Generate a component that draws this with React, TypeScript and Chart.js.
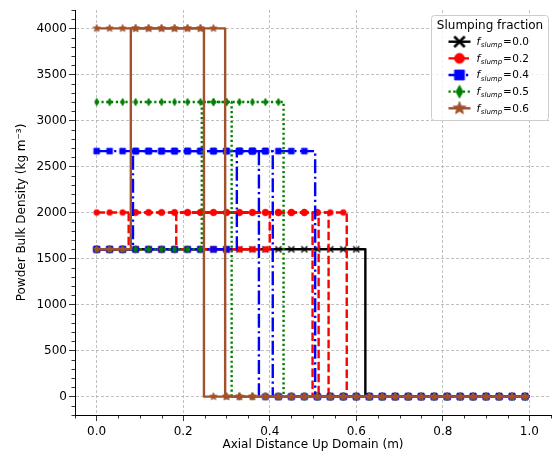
import React, { useEffect, useRef } from 'react';
import { Chart, registerables } from 'chart.js';

Chart.register(...registerables);

// ---------------- data ----------------
const slumpLabels = ['0.0', '0.2', '0.4', '0.5', '0.6'];
const seriesColors = ['#000000', '#ff0000', '#0000ff', '#008000', '#a0522d'];
const markerKinds = ['x', 'o', 's', 'd', '*'];
const unslumpedDensity = 1600;
const slumpedDensity = [1600, 2000, 2667, 3200, 4000];
// start of the slumped layer (m) and top of the powder bed (m) for each profile
const meltFronts00 = [0.0];
const bedTops00 = [0.621];
const meltFronts02 = [0.0, 0.074, 0.184, 0.4];
const bedTops02 = [0.499, 0.513, 0.536, 0.578];
const meltFronts04 = [0.0, 0.084, 0.324];
const bedTops04 = [0.375, 0.407, 0.505];
const meltFronts05 = [0.0, 0.243];
const bedTops05 = [0.312, 0.432];
const meltFronts06 = [0.0, 0.079];
const bedTops06 = [0.248, 0.297];
const domainEnd = 1.0;
const markerXs = [
  0.0, 0.03, 0.06, 0.09, 0.12, 0.15, 0.18, 0.21, 0.24, 0.27, 0.3, 0.33,
  0.36, 0.39, 0.42, 0.45, 0.48, 0.51, 0.54, 0.57, 0.6, 0.63, 0.66, 0.69,
  0.72, 0.75, 0.78, 0.81, 0.84, 0.87, 0.9, 0.93, 0.96, 0.99,
];
const xMajorTicks = [0.0, 0.2, 0.4, 0.6, 0.8, 1.0];
const yMajorTicks = [0, 500, 1000, 1500, 2000, 2500, 3000, 3500, 4000];
const xMinorStep = 0.05;
const yMinorStep = 100;
const xRange = [-0.05, 1.05];
const yRange = [-200, 4200];

const meltFronts = [meltFronts00, meltFronts02, meltFronts04, meltFronts05, meltFronts06];
const bedTops = [bedTops00, bedTops02, bedTops04, bedTops05, bedTops06];

// ---------------- styles ----------------
const LW = 2.4;
const dashes: number[][] = [[], [8.5, 3.5], [14, 3.5, 2.2, 3.5], [2.2, 2.6], []];
const FONT = '"DejaVu Sans", sans-serif';

function makeMarker(kind: string, color: string, s: number): HTMLCanvasElement {
  const size = Math.ceil(10 * s) * 2;
  const c = document.createElement('canvas');
  c.width = size;
  c.height = size;
  const g = c.getContext('2d')!;
  const cx = size / 2;
  const cy = size / 2;
  g.fillStyle = color;
  g.strokeStyle = color;
  g.lineWidth = 1;
  g.lineJoin = 'miter';
  g.beginPath();
  if (kind === 'x') {
    const r = 3 * s;
    g.lineWidth = 1.5 * s;
    g.moveTo(cx - r, cy - r);
    g.lineTo(cx + r, cy + r);
    g.moveTo(cx + r, cy - r);
    g.lineTo(cx - r, cy + r);
    g.stroke();
  } else if (kind === 'o') {
    g.arc(cx, cy, 2.8 * s, 0, Math.PI * 2);
    g.fill();
    g.stroke();
  } else if (kind === 's') {
    const h = 2.8 * s;
    g.rect(cx - h, cy - h, 2 * h, 2 * h);
    g.fill();
    g.stroke();
  } else if (kind === 'd') {
    const w = 2.0 * s;
    const h = 3.6 * s;
    g.moveTo(cx, cy - h);
    g.lineTo(cx + w, cy);
    g.lineTo(cx, cy + h);
    g.lineTo(cx - w, cy);
    g.closePath();
    g.fill();
    g.stroke();
  } else if (kind === '*') {
    const ro = 3.8 * s;
    const ri = 1.6 * s;
    for (let i = 0; i < 10; i++) {
      const r = i % 2 === 0 ? ro : ri;
      const a = -Math.PI / 2 + (i * Math.PI) / 5;
      const px = cx + r * Math.cos(a);
      const py = cy + r * Math.sin(a);
      if (i === 0) g.moveTo(px, py);
      else g.lineTo(px, py);
    }
    g.closePath();
    g.fill();
    g.stroke();
  }
  return c;
}

type Pt = { x: number; y: number; m: boolean };

function buildProfile(front: number, top: number, dens: number): Pt[] {
  const segs: [number, number, number][] = [];
  if (front > 0) segs.push([0, front, unslumpedDensity]);
  segs.push([front, top, dens]);
  segs.push([top, domainEnd, 0]);
  const pts: Pt[] = [];
  for (const [a, b, y] of segs) {
    pts.push({ x: a, y, m: false });
    for (const mx of markerXs) if (mx >= a && mx < b) pts.push({ x: mx, y, m: true });
    pts.push({ x: b, y, m: false });
  }
  return pts;
}

function minorValues(range: number[], step: number, majors: number[]): number[] {
  const out: number[] = [];
  const n0 = Math.ceil(range[0] / step - 1e-9);
  const n1 = Math.floor(range[1] / step + 1e-9);
  for (let n = n0; n <= n1; n++) {
    const v = n * step;
    if (!majors.some((m) => Math.abs(m - v) < step * 1e-3)) out.push(v);
  }
  return out;
}

export default function App() {
  const ref = useRef<HTMLCanvasElement>(null);

  useEffect(() => {
    if (!ref.current) return;
    const plotMarkers = markerKinds.map((k, i) => makeMarker(k, seriesColors[i], 1));
    const legendMarkers = markerKinds.map((k, i) => makeMarker(k, seriesColors[i], 1.75));

    const datasets: any[] = [];
    let idx = 0;
    slumpLabels.forEach((lab, s) => {
      meltFronts[s].forEach((front, k) => {
        datasets.push({
          label: `f_slump = ${lab}`,
          data: buildProfile(front, bedTops[s][k], slumpedDensity[s]),
          showLine: true,
          borderColor: seriesColors[s],
          backgroundColor: seriesColors[s],
          borderWidth: LW,
          borderDash: dashes[s],
          borderJoinStyle: 'round',
          tension: 0,
          pointStyle: plotMarkers[s],
          pointRadius: (c: any) => (c.raw && c.raw.m ? 3 : 0),
          pointHoverRadius: 0,
          order: -idx,
        });
        idx++;
      });
    });

    const xMinor = minorValues(xRange, xMinorStep, xMajorTicks);
    const yMinor = minorValues(yRange, yMinorStep, yMajorTicks);

    const minorTicks = {
      id: 'minorTicks',
      afterDraw(chart: any) {
        const { ctx, chartArea } = chart;
        const xs = chart.scales.x;
        const ys = chart.scales.y;
        ctx.save();
        ctx.strokeStyle = '#000';
        ctx.lineWidth = 0.8;
        ctx.beginPath();
        for (const v of xMinor) {
          const px = Math.round(xs.getPixelForValue(v)) + 0.5;
          ctx.moveTo(px, chartArea.bottom);
          ctx.lineTo(px, chartArea.bottom + 3.5);
        }
        for (const v of yMinor) {
          const py = Math.round(ys.getPixelForValue(v)) + 0.5;
          ctx.moveTo(chartArea.left, py);
          ctx.lineTo(chartArea.left - 3.5, py);
        }
        ctx.stroke();
        ctx.restore();
      },
    };

    const customLegend = {
      id: 'customLegend',
      afterDraw(chart: any) {
        const { ctx, chartArea } = chart;
        const right = chartArea.right - 2.5;
        const top = chartArea.top + 5.5;
        const w = 117;
        const h = 105;
        const left = right - w;
        ctx.save();
        ctx.beginPath();
        const r = 3;
        ctx.moveTo(left + r, top);
        ctx.arcTo(left + w, top, left + w, top + h, r);
        ctx.arcTo(left + w, top + h, left, top + h, r);
        ctx.arcTo(left, top + h, left, top, r);
        ctx.arcTo(left, top, left + w, top, r);
        ctx.closePath();
        ctx.fillStyle = 'rgba(255,255,255,0.8)';
        ctx.fill();
        ctx.strokeStyle = '#cccccc';
        ctx.lineWidth = 1;
        ctx.stroke();

        ctx.fillStyle = '#000';
        ctx.font = `12px ${FONT}`;
        ctx.textAlign = 'center';
        ctx.textBaseline = 'alphabetic';
        ctx.fillText('Slumping fraction', left + w / 2, top + 13.5);

        slumpLabels.forEach((lab, s) => {
          const y = top + 26.2 + 16.65 * s;
          const x0 = left + 17;
          ctx.save();
          ctx.strokeStyle = seriesColors[s];
          ctx.lineWidth = LW;
          ctx.setLineDash(dashes[s]);
          ctx.beginPath();
          ctx.moveTo(x0, y);
          ctx.lineTo(x0 + 22, y);
          ctx.stroke();
          ctx.restore();
          const mk = legendMarkers[s];
          ctx.drawImage(mk, x0 + 11 - mk.width / 2, y - mk.height / 2);

          ctx.fillStyle = '#000';
          ctx.textAlign = 'left';
          const tx = x0 + 28;
          ctx.font = `italic 10.5px ${FONT}`;
          ctx.fillText('f', tx, y + 3.4);
          ctx.font = `italic 7px ${FONT}`;
          ctx.fillText('slump', tx + 4.3, y + 5.6);
          ctx.font = `10.5px ${FONT}`;
          ctx.fillText('=', tx + 26.5, y + 3.4);
          ctx.fillText(lab, tx + 35.8, y + 3.4);
        });
        ctx.restore();
      },
    };

    const chart = new Chart(ref.current, {
      type: 'scatter',
      data: { datasets },
      options: {
        animation: false,
        responsive: false,
        events: [],
        layout: { padding: { top: 10, right: 1, left: 0, bottom: 0 } },
        plugins: {
          legend: { display: false },
          tooltip: { enabled: false },
        },
        scales: {
          x: {
            type: 'linear',
            min: xRange[0],
            max: xRange[1],
            afterBuildTicks: (sc: any) => {
              sc.ticks = xMajorTicks.map((v) => ({ value: v }));
            },
            afterFit: (sc: any) => {
              sc.height = 37;
            },
            ticks: {
              color: '#000',
              font: { family: FONT, size: 12 },
              padding: 4,
              maxRotation: 0,
              autoSkip: false,
              callback: (v: any) => Number(v).toFixed(1),
            },
            grid: {
              color: '#b0b0b0',
              lineWidth: 0.8,
              tickColor: '#000',
              tickWidth: 0.8,
              tickLength: 6,
            },
            border: { display: true, color: '#000', width: 1, dash: [3, 2] },
            title: {
              display: true,
              text: 'Axial Distance Up Domain (m)',
              color: '#000',
              font: { family: FONT, size: 12 },
              padding: { top: 0, bottom: 0 },
            },
          },
          y: {
            type: 'linear',
            min: yRange[0],
            max: yRange[1],
            afterBuildTicks: (sc: any) => {
              sc.ticks = yMajorTicks.map((v) => ({ value: v }));
            },
            afterFit: (sc: any) => {
              sc.width = 75;
            },
            ticks: {
              color: '#000',
              font: { family: FONT, size: 12 },
              padding: 2,
              autoSkip: false,
              callback: (v: any) => String(v),
            },
            grid: {
              color: '#b0b0b0',
              lineWidth: 0.8,
              tickColor: '#000',
              tickWidth: 0.8,
              tickLength: 6,
            },
            border: { display: true, color: '#000', width: 1, dash: [3, 2] },
            title: {
              display: true,
              text: 'Powder Bulk Density (kg m\u207B\u00B3)',
              color: '#000',
              font: { family: FONT, size: 12 },
              padding: { top: 15, bottom: 0 },
            },
          },
        },
      },
      plugins: [minorTicks, customLegend],
    } as any);

    return () => chart.destroy();
  }, []);

  return (
    <div style={{ position: 'absolute', left: 0, top: 0, width: 552, height: 452 }}>
      <canvas ref={ref} width={552} height={452} />
    </div>
  );
}
